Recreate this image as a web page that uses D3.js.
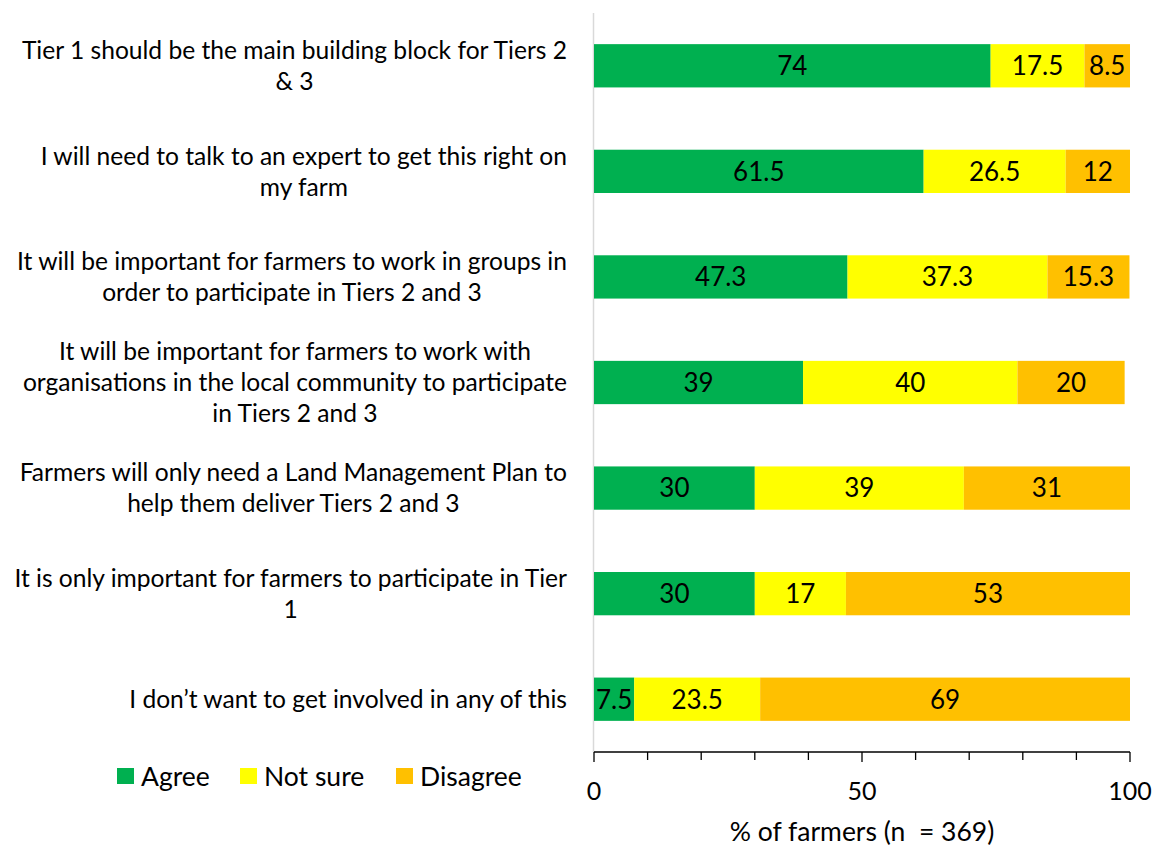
<!DOCTYPE html>
<html>
<head>
<meta charset="utf-8">
<script src="https://cdn.jsdelivr.net/npm/d3@7"></script>
<style>
  body { margin: 0; background: #fff; }
  text { font-family: Lato, "Open Sans", sans-serif; fill: #000; white-space: pre; }
</style>
</head>
<body>
<div id="vis"></div>
<script>
// statements, already broken into lines as in the original
const categories = [
  ["Tier 1 should be the main building block for Tiers 2", "& 3"],
  ["I will need to talk to an expert to get this right on", "my farm"],
  ["It will be important for farmers to work in groups in", "order to participate in Tiers 2 and 3"],
  ["It will be important for farmers to work with", "organisations in the local community to participate", "in Tiers 2 and 3"],
  ["Farmers will only need a Land Management Plan to", "help them deliver Tiers 2 and 3"],
  ["It is only important for farmers to participate in Tier", "1"],
  ["I don\u2019t want to get involved in any of this"]
];
const agree    = [74, 61.5, 47.3, 39, 30, 30, 7.5];
const notSure  = [17.5, 26.5, 37.3, 40, 39, 17, 23.5];
const disagree = [8.5, 12, 15.3, 20, 31, 53, 69];
const seriesNames = ["Agree", "Not sure", "Disagree"];
const colors = ["#00B050", "#FFFF00", "#FFC000"];
const xTicks = [0, 50, 100];

const W = 1157, H = 849;
const m = { left: 594, right: 1130, top: 13, bottom: 752 };

const svg = d3.select("#vis").append("svg")
  .attr("width", W).attr("height", H);

const rows = categories.map((c, i) => ({ idx: i, lines: c, vals: [agree[i], notSure[i], disagree[i]] }));

const x = d3.scaleLinear().domain([0, 100]).range([m.left, m.right]);
const y = d3.scaleBand().domain(d3.range(categories.length)).range([m.top, m.bottom]).paddingInner(0.59).paddingOuter(0.295);

// light vertical category axis
svg.append("line")
  .attr("x1", m.left - 0.5).attr("x2", m.left - 0.5)
  .attr("y1", m.top).attr("y2", m.bottom)
  .attr("stroke", "#d9d9d9").attr("stroke-width", 1.5);

// stacked bars
const stacked = d3.stack().keys([0, 1, 2]).value((d, k) => d.vals[k])(rows);

stacked.forEach((layer, k) => {
  const g = svg.append("g");
  g.selectAll("rect").data(layer).join("rect")
    .attr("x", d => x(d[0]))
    .attr("y", d => y(d.data.idx))
    .attr("width", d => x(d[1]) - x(d[0]))
    .attr("height", y.bandwidth())
    .attr("fill", colors[k]);
  g.selectAll("text").data(layer).join("text")
    .attr("x", d => (x(d[0]) + x(d[1])) / 2)
    .attr("y", d => y(d.data.idx) + y.bandwidth() / 2)
    .attr("dy", "0.36em")
    .attr("text-anchor", "middle")
    .style("font-size", "26px")
    .text(d => d.data.vals[k]);
});

// category labels: block right-aligned, lines centred within block
const labelRight = 567, lineH = 31;
rows.forEach(r => {
  const cy = y(r.idx) + y.bandwidth() / 2;
  const g = svg.append("g");
  const n = r.lines.length;
  const texts = r.lines.map((ln, j) => g.append("text")
    .attr("y", cy + (j - (n - 1) / 2) * lineH)
    .attr("dy", "0.36em")
    .attr("text-anchor", "middle")
    .style("font-size", "24.6px")
    .text(ln));
  const maxW = d3.max(texts, t => t.node().getComputedTextLength());
  texts.forEach(t => t.attr("x", labelRight - maxW / 2));
});

// x axis
const axis = svg.append("g").attr("transform", `translate(0,${m.bottom})`);
axis.append("line").attr("x1", m.left).attr("x2", m.right).attr("stroke", "#000").attr("stroke-width", 1.5);
axis.selectAll("line.tick").data(d3.range(0, 101, 10)).join("line")
  .attr("class", "tick")
  .attr("x1", d => x(d)).attr("x2", d => x(d))
  .attr("y1", 0).attr("y2", d => (d % 50 === 0 ? 10 : 8))
  .attr("stroke", "#000").attr("stroke-width", 1.3);
axis.selectAll("text").data(xTicks).join("text")
  .attr("x", d => x(d)).attr("y", 39)
  .attr("dy", "0.36em")
  .attr("text-anchor", "middle")
  .style("font-size", "25px")
  .text(d => d);

svg.append("text")
  .attr("x", (m.left + m.right) / 2).attr("y", 831)
  .attr("dy", "0.36em")
  .attr("text-anchor", "middle")
  .style("font-size", "26.5px")
  .text("% of farmers (n  = 369)");

// legend
const legendX = [117, 240, 396];
const legend = svg.append("g");
seriesNames.forEach((name, k) => {
  legend.append("rect")
    .attr("x", legendX[k]).attr("y", 768)
    .attr("width", 17).attr("height", 16)
    .attr("fill", colors[k]);
  legend.append("text")
    .attr("x", legendX[k] + 24).attr("y", 776)
    .attr("dy", "0.36em")
    .style("font-size", "26.5px")
    .text(name);
});
</script>
</body>
</html>
